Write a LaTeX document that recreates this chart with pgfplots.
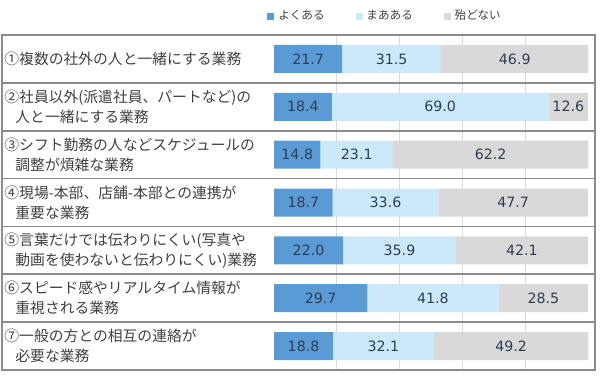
\documentclass[border=0pt]{standalone}
\usepackage{pgfplots}
\pgfplotsset{compat=1.18}
\usepackage{pgfplotstable}
\usepackage{fontspec}
\setmainfont{DejaVu Sans}
\newfontfamily\jp{Noto Sans CJK JP}
\definecolor{cA}{HTML}{5B9BD5}
\definecolor{cB}{HTML}{CCE9FA}
\definecolor{cC}{HTML}{D9D9D9}
\definecolor{framec}{HTML}{8C8C8C}
\definecolor{gridc}{HTML}{DADADA}
\definecolor{labtxt}{HTML}{404040}
\definecolor{numtxt}{HTML}{2E3D54}

\pgfplotstableread{
row a b c
0 21.7 31.5 46.9
1 18.4 69.0 12.6
2 14.8 23.1 62.2
3 18.7 33.6 47.7
4 22.0 35.9 42.1
5 29.7 41.8 28.5
6 18.8 32.1 49.2
}\data
\pgfplotstablecreatecol[create col/expr={\thisrow{a}/2}]{ca}\data
\pgfplotstablecreatecol[create col/expr={\thisrow{a}+\thisrow{b}/2}]{cb}\data
\pgfplotstablecreatecol[create col/expr={\thisrow{a}+\thisrow{b}+\thisrow{c}/2}]{cc}\data

\pgfplotsset{common/.style={
  at={(1pt,5pt)}, anchor=south west, scale only axis,
  width=296.5pt, height=167.5pt,
  xmin=-86.6, xmax=102.2, ymin=-0.5, ymax=6.5, y dir=reverse}}

\begin{document}
\begin{tikzpicture}
\useasboundingbox (0,0) rectangle (300pt,190pt);
\begin{axis}[common,
  xbar stacked, bar width=0.585,
  xtick={20,40,60,80}, xticklabels={}, xmajorgrids,
  major grid style={draw=gridc, line width=0.6pt},
  ytick={0,...,6},
  yticklabels={
    {①複数の社外の人と一緒にする業務},
    {②社員以外(派遣社員、パートなど)の\\\hspace*{5.5pt}人と一緒にする業務},
    {③シフト勤務の人などスケジュールの\\\hspace*{5.5pt}調整が煩雑な業務},
    {④現場-本部、店舗-本部との連携が\\\hspace*{5.5pt}重要な業務},
    {⑤言葉だけでは伝わりにくい(写真や\\\hspace*{5.5pt}動画を使わないと伝わりにくい)業務},
    {⑥スピード感やリアルタイム情報が\\\hspace*{5.5pt}重視される業務},
    {⑦一般の方との相互の連絡が\\\hspace*{5.5pt}必要な業務}},
  minor ytick={0.5,1.5,...,5.5}, yminorgrids,
  minor grid style={draw=framec, line width=0.8pt},
  tick style={draw=none}, major tick length=0pt, minor tick length=0pt,
  axis line style={draw=framec, line width=0.8pt},
  yticklabel style={anchor=west, align=left, inner sep=0pt, xshift=1pt,
    font=\jp\fontsize{7.4}{10}\selectfont, text=labtxt},
  legend columns=3,
  legend style={at={(0.447,1)}, anchor=west, yshift=9.5pt, draw=none, fill=none,
    inner sep=0pt, font=\jp\fontsize{5.8}{6}\selectfont, text=labtxt,
    /tikz/every even column/.append style={column sep=13.5pt}},
]
\addplot[fill=cA, draw=none, forget plot] table[x=a,y=row]{\data};
\addplot[fill=cB, draw=none, forget plot] table[x=b,y=row]{\data};
\addplot[fill=cC, draw=none, forget plot] table[x=c,y=row]{\data};
\addlegendimage{legend image code/.code={\fill[cA] (0pt,-1.5pt) rectangle (3pt,1.5pt);}}
\addlegendentry{よくある}
\addlegendimage{legend image code/.code={\fill[cB] (0pt,-1.5pt) rectangle (3pt,1.5pt);}}
\addlegendentry{まあある}
\addlegendimage{legend image code/.code={\fill[cC] (0pt,-1.5pt) rectangle (3pt,1.5pt);}}
\addlegendentry{殆どない}
\end{axis}
\begin{axis}[common, hide axis,
  point meta=explicit,
  nodes near coords={\pgfmathprintnumber[fixed,fixed zerofill,precision=1,assume math mode=true]{\pgfplotspointmeta}},
  nodes near coords align={center},
  every node near coord/.append style={anchor=center, inner sep=0pt,
    font=\fontsize{7.1}{8}\selectfont, text=numtxt}]
\addplot[draw=none, mark=none] table[x=ca,y=row,meta=a]{\data};
\addplot[draw=none, mark=none] table[x=cb,y=row,meta=b]{\data};
\addplot[draw=none, mark=none] table[x=cc,y=row,meta=c]{\data};
\end{axis}
\end{tikzpicture}
\end{document}
